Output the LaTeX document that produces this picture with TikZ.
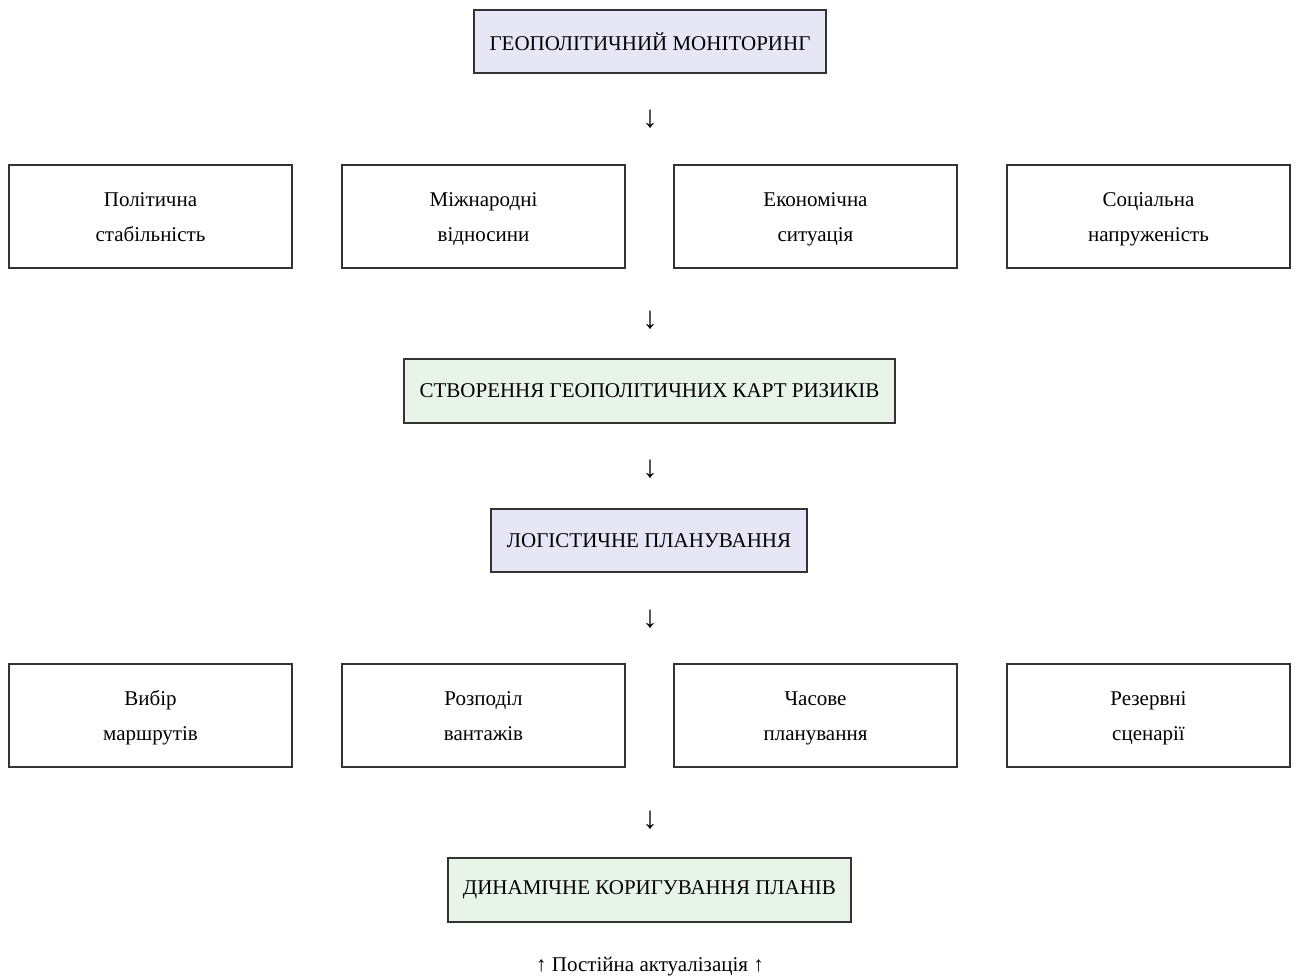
\documentclass[tikz,border=0pt]{standalone}
\usepackage{fontspec}
\setmainfont{Liberation Serif}
\definecolor{lav}{HTML}{E6E6F7}
\definecolor{mint}{HTML}{E8F4E8}
\definecolor{edge}{HTML}{333333}
% uniform line strut for the two-line boxes
\newcommand\linestrut{\vrule height 22pt depth 8pt width 0pt}
\begin{document}
\begin{tikzpicture}[x=1pt,y=-1pt,
  box/.style={draw=edge,line width=1.3pt,inner sep=0pt,font=\fontsize{21}{35}\selectfont,align=center},
  mainbox/.style={box,fill=lav},
  mapbox/.style={box,fill=mint},
  itembox/.style={box,fill=white,minimum width=283pt,minimum height=103pt},
  downarrow/.style={font=\fontsize{31}{31}\selectfont,inner sep=0pt}]
\useasboundingbox[fill=white] (0,0) rectangle (1296,977);
% top-level steps
\node[mainbox,minimum width=352pt,minimum height=63pt] (mon) at (650,41.5) {ГЕОПОЛІТИЧНИЙ МОНІТОРИНГ};
\node[downarrow] (a1) at (650,119) {↓};
% monitoring factors
\node[itembox] (f1) at (150.5,216.5) {\linestrut Політична\\\linestrut стабільність};
\node[itembox] (f2) at (483.5,216.5) {\linestrut Міжнародні\\\linestrut відносини};
\node[itembox] (f3) at (815.5,216.5) {\linestrut Економічна\\\linestrut ситуація};
\node[itembox] (f4) at (1148.5,216.5) {\linestrut Соціальна\\\linestrut напруженість};
\node[downarrow] (a2) at (650,320) {↓};
\node[mapbox,minimum width=491pt,minimum height=64pt] (maps) at (649.5,391) {СТВОРЕННЯ ГЕОПОЛІТИЧНИХ КАРТ РИЗИКІВ};
\node[downarrow] (a3) at (650,469) {↓};
\node[mainbox,minimum width=316pt,minimum height=63pt] (plan) at (649,540.5) {ЛОГІСТИЧНЕ ПЛАНУВАННЯ};
\node[downarrow] (a4) at (650,619) {↓};
% planning tasks
\node[itembox] (t1) at (150.5,715.5) {\linestrut Вибір\\\linestrut маршрутів};
\node[itembox] (t2) at (483.5,715.5) {\linestrut Розподіл\\\linestrut вантажів};
\node[itembox] (t3) at (815.5,715.5) {\linestrut Часове\\\linestrut планування};
\node[itembox] (t4) at (1148.5,715.5) {\linestrut Резервні\\\linestrut сценарії};
\node[downarrow] (a5) at (650,820) {↓};
\node[mapbox,minimum width=403pt,minimum height=64pt] (adj) at (649.5,890) {ДИНАМІЧНЕ КОРИГУВАННЯ ПЛАНІВ};
\node[font=\fontsize{21}{21}\selectfont,inner sep=0pt] (upd) at (650,967) {↑ Постійна актуалізація ↑};
\end{tikzpicture}
\end{document}
